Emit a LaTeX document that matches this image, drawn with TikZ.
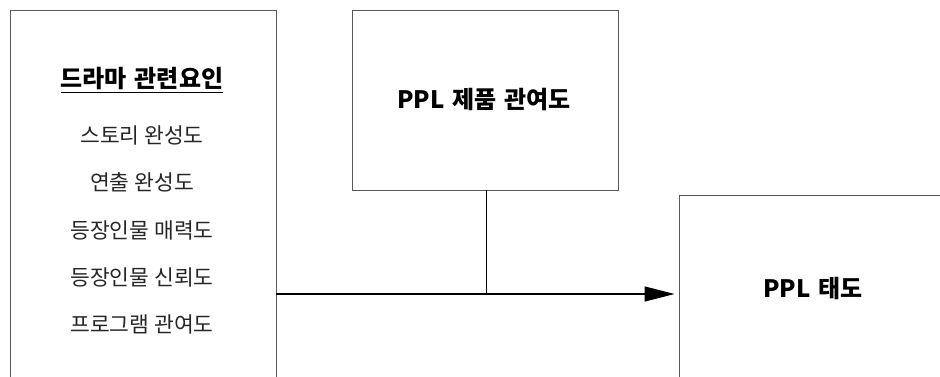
\documentclass[tikz,border=0pt]{standalone}
\usepackage{fontspec}
\setmainfont{Noto Sans CJK KR}
\usetikzlibrary{arrows.meta}
\begin{document}
\begin{tikzpicture}[x=1pt,y=-1pt,
  box/.style={draw=black!65,line width=0.9pt,minimum width=266pt,inner sep=0pt},
  item/.style={font=\fontsize{21.5}{24}\selectfont,text=black!85,inner sep=0pt},
  head/.style={font=\fontsize{24}{27}\selectfont\bfseries,text=black,inner sep=0pt},
  conn/.style={draw=black,line width=1.3pt}]
\useasboundingbox (0,0) rectangle (940,376);
\clip (0,0) rectangle (940,376);
\node[box,minimum height=372pt] (left) at (143,196) {};
\node[box,minimum width=266pt,minimum height=180pt] (mid) at (485.5,100) {};
\node[box,minimum height=190pt] (right) at (812,290) {};
\node[head,font=\fontsize{24}{27}\selectfont\bfseries] (title) at (142,80) {\underline{드라마\hspace{0.1em} 관련요인}};
\node[item] (t1) at (142,135) {스토리 완성도};
\node[item] (t2) at (142,182) {연출 완성도};
\node[item] (t3) at (142,230) {등장인물 매력도};
\node[item] (t4) at (142,277) {등장인물 신뢰도};
\node[item] (t5) at (142,324) {프로그램 관여도};
\node[head] (midt) at (484,100) {PPL\hspace{0.1em} 제품\hspace{0.1em} 관여도};
\node[head] (rightt) at (813,288) {PPL\hspace{0.1em} 태도};
\coordinate (j) at (486,294);
\draw[conn,line width=1pt] (mid.south -| j) -- (j);
\draw[conn,-{Triangle[length=30pt,width=15pt]},shorten >=4pt] (left.east |- j) -- (right.west |- j);
\end{tikzpicture}
\end{document}
